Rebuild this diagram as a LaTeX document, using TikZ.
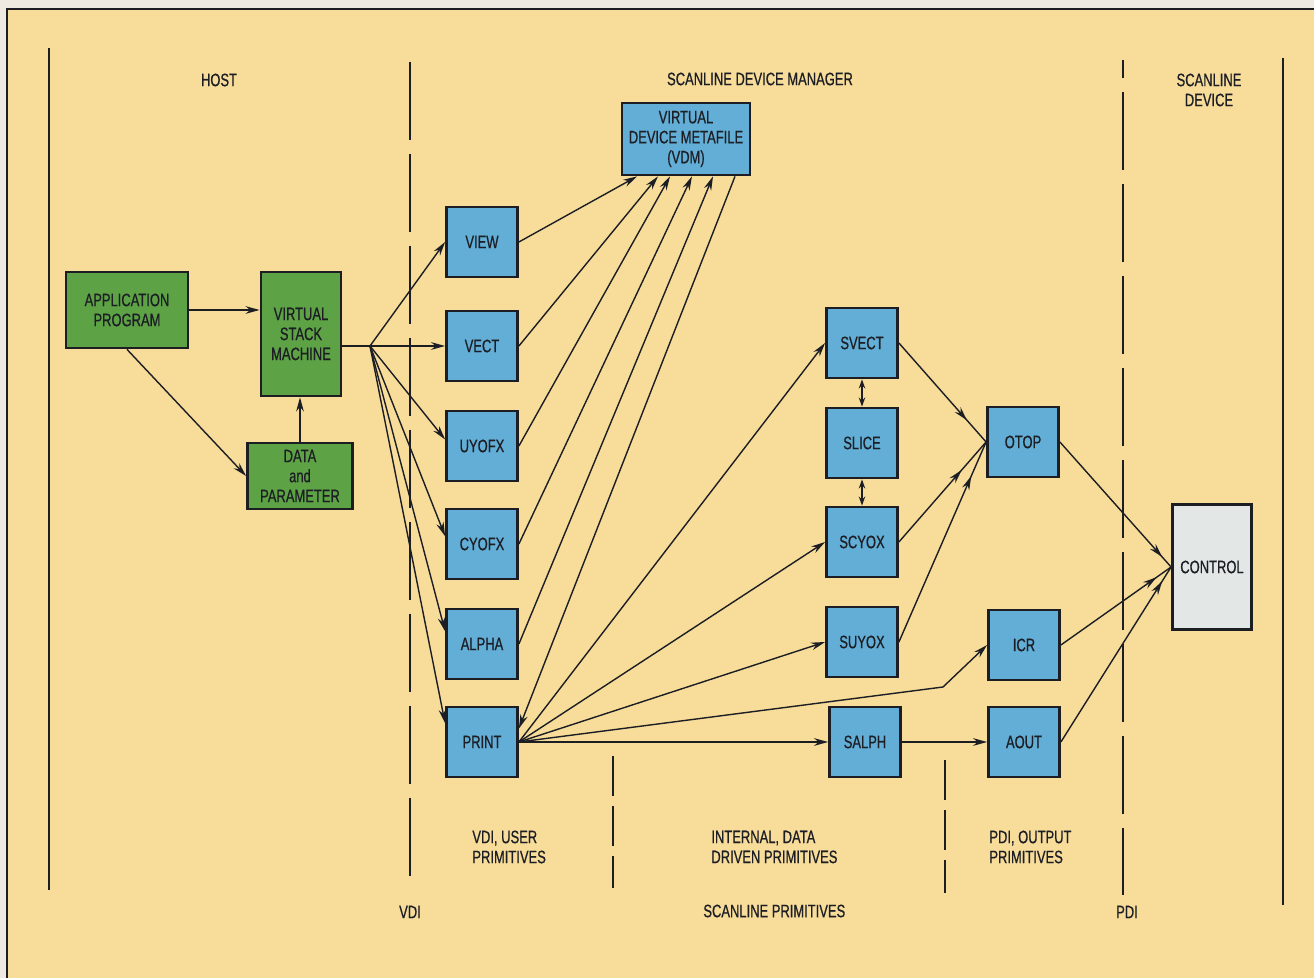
\documentclass[tikz,border=0pt]{standalone}
\usepackage{fontspec}
\usetikzlibrary{arrows.meta,decorations.markings}
\newfontfamily\narrowsf[FakeStretch=0.72,FakeBold=0.6]{Liberation Sans}
\definecolor{paper}{HTML}{F7DC9A}
\definecolor{margin}{HTML}{EEEAE2}
\definecolor{boxgreen}{HTML}{5EA246}
\definecolor{boxblue}{HTML}{62AED6}
\definecolor{boxgrey}{HTML}{E3E8E6}
\definecolor{ink}{HTML}{1C1E24}

\begin{document}
\begin{tikzpicture}[x=0.5pt,y=-0.5pt,font=\narrowsf\fontsize{9}{10}\selectfont]
\tikzset{blu/.style={draw=ink,line width=1.4pt,fill=boxblue,text=ink,align=center,inner sep=0pt,minimum width=35.5pt,minimum height=35pt},
  grn/.style={blu,fill=boxgreen},
  txt/.style={text=ink,inner sep=0pt,align=left},
  arr/.style={draw=ink,line width=0.7pt,-{Stealth[length=7pt,width=3.8pt]}},
  twin/.style={draw=ink,line width=0.7pt,{Stealth[length=4.5pt,width=3.2pt]}-{Stealth[length=4.5pt,width=3.2pt]}},
  tipat/.style={draw=ink,line width=0.7pt,postaction={decorate},
    decoration={markings,mark=at position #1 with {\arrow{Stealth[length=7pt,width=3.8pt]}}}}}

\useasboundingbox (0,0) rectangle (1314,978);
\fill[margin] (0,0) rectangle (1314,978);
\draw[ink,fill=paper,line width=1pt] (7,9) rectangle (1330,990);

% dividers
\draw[ink,line width=0.75pt] (49,48) -- (49,890);
\draw[ink,line width=0.75pt] (1283,58) -- (1283,905);
\draw[ink,line width=0.85pt,dash pattern=on 39pt off 7pt] (410,62) -- (410,890);
\draw[ink,line width=0.85pt,dash pattern=on 39pt off 7pt,dash phase=30pt] (1123,60) -- (1123,895);
\draw[ink,line width=0.75pt,dash pattern=on 20pt off 5pt] (613,756) -- (613,888);
\draw[ink,line width=0.75pt,dash pattern=on 20pt off 5pt] (945,760) -- (945,893);

% host side
\node[grn,minimum width=61pt,minimum height=38pt] (app) at (127,310) {APPLICATION\\PROGRAM};
\node[grn,minimum width=40pt,minimum height=62pt] (vsm) at (301,334) {VIRTUAL\\STACK\\MACHINE};
\node[grn,minimum width=52.5pt,minimum height=33pt] (dat) at (300,476) {DATA\\and\\PARAMETER};

% user primitives
\node[blu,minimum width=64pt,minimum height=36pt] (vdm) at (686,139) {VIRTUAL\\DEVICE METAFILE\\(VDM)};
\node[blu] (view) at (482,242) {VIEW};
\node[blu] (vect) at (482,346) {VECT};
\node[blu] (uyofx) at (482,446) {UYOFX};
\node[blu] (cyofx) at (482,544) {CYOFX};
\node[blu] (alpha) at (482,644) {ALPHA};
\node[blu] (print) at (482,742) {PRINT};

% scanline primitives
\node[blu] (svect) at (862,343) {SVECT};
\node[blu] (slice) at (862,443) {SLICE};
\node[blu] (scyox) at (862,542) {SCYOX};
\node[blu] (suyox) at (862,642) {SUYOX};
\node[blu] (salph) at (865,742) {SALPH};
\node[blu] (otop) at (1023,442) {OTOP};
\node[blu] (icr) at (1024,645) {ICR};
\node[blu] (aout) at (1024,742) {AOUT};
\node[blu,fill=boxgrey,minimum width=39.5pt,minimum height=62.5pt] (ctrl) at (1212,567) {CONTROL};

\coordinate (fork) at (370,346);
\coordinate (knee) at (943,687);

\draw[arr] (app.east) -- (app.east -| vsm.west);
\draw[arr] (app.south) -- (dat.west);
\draw[arr] (dat.north) -- (dat.north |- vsm.south);
\draw[ink,line width=0.7pt] (vsm.east |- fork) -- (fork);
\draw[arr] (fork) -- (view.west);
\draw[arr] (fork) -- (vect.west);
\draw[arr] (fork) -- (uyofx.170);
\draw[arr] (fork) -- (cyofx.168);
\draw[arr] (fork) -- (alpha.161);
\draw[arr] (fork) -- (print.153);

\draw[arr] (view.east) -- ([xshift=-24.5pt]vdm.south);
\draw[arr] (vect.east) -- ([xshift=-14pt]vdm.south);
\draw[arr] (uyofx.east) -- ([xshift=-8pt]vdm.south);
\draw[arr] (cyofx.east) -- ([xshift=3pt]vdm.south);
\draw[arr] (alpha.east) -- ([xshift=13.5pt]vdm.south);
\draw[arr] ([xshift=24.5pt]vdm.south) -- (print.20);

\draw[arr] (print.east) -- (svect.west);
\draw[arr] (print.east) -- (scyox.west);
\draw[arr] (print.east) -- (suyox.west);
\draw[arr] (print.east) -- (knee) -- (icr.west);
\draw[arr] (print.east) -- (salph.west);
\draw[arr] (salph) -- (aout);
\draw[twin] (svect) -- (slice);
\draw[twin] (slice) -- (scyox);

\draw[tipat=0.78] (svect.east) -- (otop.west);
\draw[tipat=0.72] (scyox.east) -- (otop.west);
\draw[tipat=0.83] (suyox.east) -- (otop.west);
\draw[tipat=0.92] (otop.east) -- (ctrl.west);
\draw[tipat=0.87] (icr.east) -- (ctrl.west);
\draw[tipat=0.92] (aout.east) -- (ctrl.west);

% region labels
\node[txt] (host) at (219,80) {HOST};
\node[txt] (sdm) at (760,79) {SCANLINE DEVICE MANAGER};
\node[txt,align=center] (sdev) at (1209,90) {SCANLINE\\DEVICE};
\node[txt,anchor=west] (vdiu) at (472,847) {VDI, USER\\PRIMITIVES};
\node[txt,anchor=west] (idp) at (711,847) {INTERNAL, DATA\\DRIVEN PRIMITIVES};
\node[txt,anchor=west] (pdio) at (989,847) {PDI, OUTPUT\\PRIMITIVES};
\node[txt] (vdi) at (410,912) {VDI};
\node[txt,anchor=west] (slp) at (703,911) {SCANLINE PRIMITIVES};
\node[txt] (pdi) at (1127,912) {PDI};
\end{tikzpicture}
\end{document}
